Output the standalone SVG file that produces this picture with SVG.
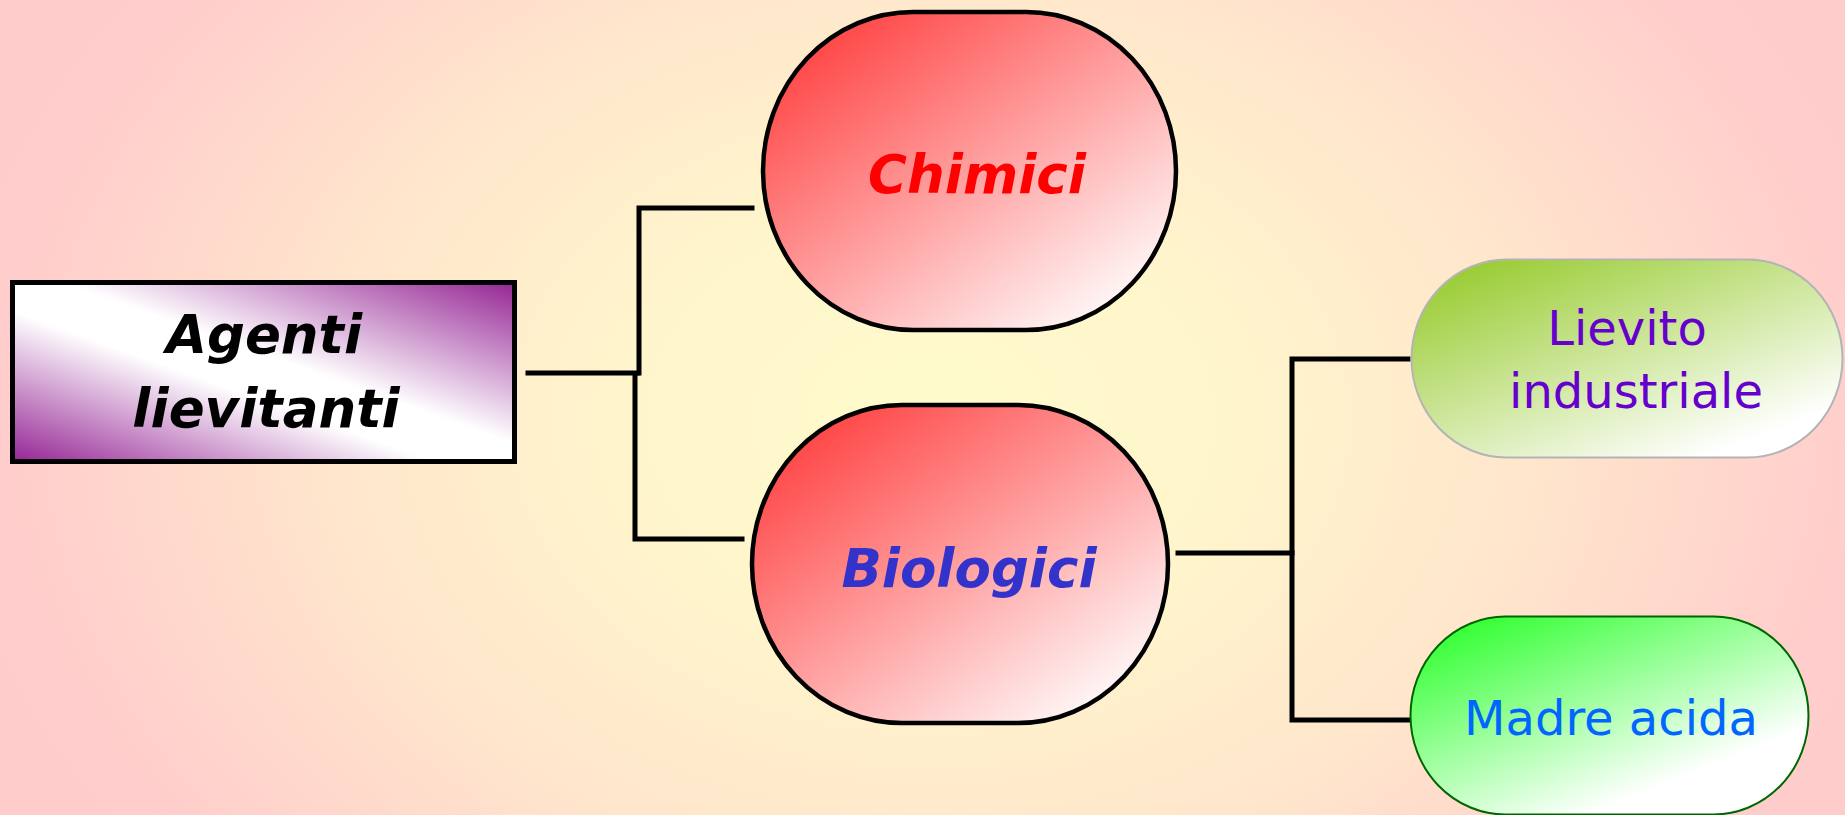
<svg xmlns="http://www.w3.org/2000/svg" width="1845" height="815" viewBox="0 0 1845 815">
  <defs>
    <radialGradient id="bg" gradientUnits="userSpaceOnUse" cx="930" cy="420" r="1000" gradientTransform="translate(930 420) scale(1 0.75) translate(-930 -420)">
      <stop offset="0" stop-color="#FFFBCC"/>
      <stop offset="0.3" stop-color="#FFF5CC"/>
      <stop offset="0.6" stop-color="#FFE6CC"/>
      <stop offset="0.9" stop-color="#FFCFCC"/>
      <stop offset="1" stop-color="#FFCCCC"/>
    </radialGradient>
    <linearGradient id="purple" x1="0" y1="1" x2="1" y2="0">
      <stop offset="0" stop-color="#952595"/>
      <stop offset="0.42" stop-color="#FFFFFF"/>
      <stop offset="0.55" stop-color="#FFFFFF"/>
      <stop offset="1" stop-color="#952595"/>
    </linearGradient>
    <linearGradient id="red" x1="0.08" y1="0.08" x2="0.9" y2="0.95">
      <stop offset="0" stop-color="#FF4040"/>
      <stop offset="1" stop-color="#FFFFFF"/>
    </linearGradient>
    <linearGradient id="lime" x1="0.1" y1="0.05" x2="0.8" y2="0.9">
      <stop offset="0" stop-color="#99CC33"/>
      <stop offset="1" stop-color="#FFFFFF"/>
    </linearGradient>
    <linearGradient id="green" x1="0.1" y1="0.05" x2="0.7" y2="0.8">
      <stop offset="0" stop-color="#33FF33"/>
      <stop offset="1" stop-color="#FFFFFF"/>
    </linearGradient>
  </defs>
  <style>
    .lbl { font-family: "Comic Sans MS", "DejaVu Sans", sans-serif; text-anchor: middle; }
    .bi { font-weight: bold; font-style: italic; font-size: 53px; }
    .rg { font-size: 48px; }
    .wire { fill: none; stroke: #000; stroke-width: 5; stroke-linecap: square; }
    .blob { stroke: #000; stroke-width: 4.5; }
  </style>

  <rect width="1845" height="815" fill="url(#bg)"/>

  <g id="connectors">
    <path class="wire" d="M528,373 H637" stroke-width="6"/>
    <path class="wire" d="M752,208 H639 V373"/>
    <path class="wire" d="M635,375 V539 H742"/>
    <path class="wire" d="M1178,553 H1292"/>
    <path class="wire" d="M1408,359 H1292 V720 H1408"/>
  </g>

  <g id="agenti-lievitanti">
    <rect x="12.5" y="282.5" width="502" height="179" fill="url(#purple)" stroke="#000" stroke-width="5"/>
    <text class="lbl bi" x="264" y="353">Agenti</text>
    <text class="lbl bi" x="266" y="427">lievitanti</text>
  </g>

  <g id="chimici">
    <rect class="blob" x="763" y="12" width="413" height="318" rx="150" ry="159" fill="url(#red)"/>
    <text class="lbl bi" x="977" y="193" fill="#FF0000">Chimici</text>
  </g>

  <g id="biologici">
    <rect class="blob" x="752" y="405" width="416" height="318" rx="150" ry="159" fill="url(#red)"/>
    <text class="lbl bi" x="969" y="587" fill="#3333CC">Biologici</text>
  </g>

  <g id="lievito-industriale">
    <rect x="1411.5" y="259.5" width="431" height="198" rx="95" ry="99" fill="url(#lime)" stroke="#B4B4B4" stroke-width="2"/>
    <text class="lbl rg" x="1627" y="345" fill="#6600CC">Lievito</text>
    <text class="lbl rg" x="1636" y="408" fill="#6600CC">industriale</text>
  </g>

  <g id="madre-acida">
    <rect x="1410.5" y="616.5" width="398" height="198" rx="95" ry="99" fill="url(#green)" stroke="#006600" stroke-width="2"/>
    <text class="lbl rg" x="1611" y="735" fill="#0066FF">Madre acida</text>
  </g>
</svg>
